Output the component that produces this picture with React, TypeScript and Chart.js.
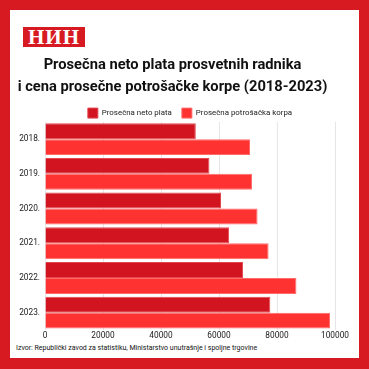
import React, { useEffect, useRef } from "react";
import { Chart, registerables } from "chart.js";

Chart.register(...registerables);

const categories = ["2018.", "2019.", "2020.", "2021.", "2022.", "2023."];
const salaryLabel = "Prosečna neto plata";
const basketLabel = "Prosečna potrošačka korpa";
const salaryValues = [52000, 56700, 60700, 63500, 68300, 77700];
const basketValues = [70700, 71400, 73300, 77100, 86700, 98300];
const titleLines = [
  "Prosečna neto plata prosvetnih radnika",
  "i cena prosečne potrošačke korpe (2018-2023)",
];
const sourceText =
  "Izvor: Republički zavod za statistiku, Ministarstvo unutrašnje i spoljne trgovine";
const logoText = "НИН";

const FONT = "Roboto, 'Noto Sans', sans-serif";

export default function App() {
  const ref = useRef<HTMLCanvasElement | null>(null);

  useEffect(() => {
    if (!ref.current) return;
    const legendTrim = {
      id: "legendTrim",
      beforeInit(chart: any) {
        const lg = chart.legend;
        if (lg) {
          const f = lg.fit.bind(lg);
          lg.fit = () => {
            f();
            lg.height = Math.max(0, lg.height - 6.3);
          };
        }
      },
    };
    const chart = new Chart(ref.current, {
      type: "bar",
      data: {
        labels: categories,
        datasets: [
          {
            label: salaryLabel,
            data: salaryValues,
            backgroundColor: "#d1141f",
            borderColor: "#e2474d",
            borderWidth: 1,
            categoryPercentage: 0.92,
            barPercentage: 1,
          },
          {
            label: basketLabel,
            data: basketValues,
            backgroundColor: "#ff3232",
            borderColor: "#ff6a6a",
            borderWidth: 1,
            categoryPercentage: 0.92,
            barPercentage: 1,
          },
        ],
      },
      plugins: [legendTrim],
      options: {
        indexAxis: "y",
        animation: false,
        responsive: false,
        maintainAspectRatio: false,
        layout: { padding: { left: 0, right: 24, top: 0, bottom: 0 } },
        plugins: {
          title: {
            display: true,
            text: titleLines,
            color: "#111",
            font: { family: FONT, size: 14.7, weight: "bold", lineHeight: 1.5 },
            padding: { top: 0, bottom: 0 },
          },
          legend: {
            display: true,
            position: "top",
            fullSize: false,
            labels: {
              boxWidth: 10,
              boxHeight: 10,
              padding: 10,
              color: "#1a1a1a",
              font: { family: FONT, size: 7.9 },
            },
          },
          tooltip: { enabled: false },
        },
        scales: {
          x: {
            min: 0,
            max: 100000,
            ticks: {
              stepSize: 20000,
              color: "#1a1a1a",
              font: { family: FONT, size: 8.3 },
              padding: 1,
              callback: (v: any) => String(v),
            },
            grid: { color: "#e6e6e6", drawTicks: false },
            border: { display: false },
            afterFit: (s: any) => {
              s.height = 14;
            },
          },
          y: {
            ticks: {
              color: "#1a1a1a",
              font: { family: FONT, size: 8.3 },
              padding: 5,
            },
            grid: { display: false, drawTicks: false },
            border: { display: false },
            afterFit: (s: any) => {
              s.width = 35;
            },
          },
        },
      },
    });
    return () => chart.destroy();
  }, []);

  return (
    <div
      style={{
        position: "fixed",
        left: 0,
        top: 0,
        width: 369,
        height: 369,
        background: "#d71a21",
        overflow: "hidden",
      }}
    >
      <div
        style={{
          position: "absolute",
          left: 10,
          top: 10,
          width: 349,
          height: 348,
          background: "#ffffff",
        }}
      />
      <div
        style={{
          position: "absolute",
          left: 23,
          top: 27,
          width: 62,
          height: 20,
          background: "#d71a21",
          color: "#fff",
          fontFamily: "'Liberation Serif', 'DejaVu Serif', serif",
          fontWeight: "bold",
          fontSize: 21,
          lineHeight: "20px",
          textAlign: "center",
          letterSpacing: 1,
        }}
      >
        {logoText}
      </div>
      <canvas
        ref={ref}
        width={349}
        height={290}
        style={{ position: "absolute", left: 10, top: 54, width: 349, height: 290 }}
      />
      <div
        style={{
          position: "absolute",
          left: 16,
          top: 343.5,
          fontFamily: FONT,
          fontSize: 7,
          color: "#111",
          whiteSpace: "nowrap",
          lineHeight: "9px",
        }}
      >
        {sourceText}
      </div>
    </div>
  );
}
